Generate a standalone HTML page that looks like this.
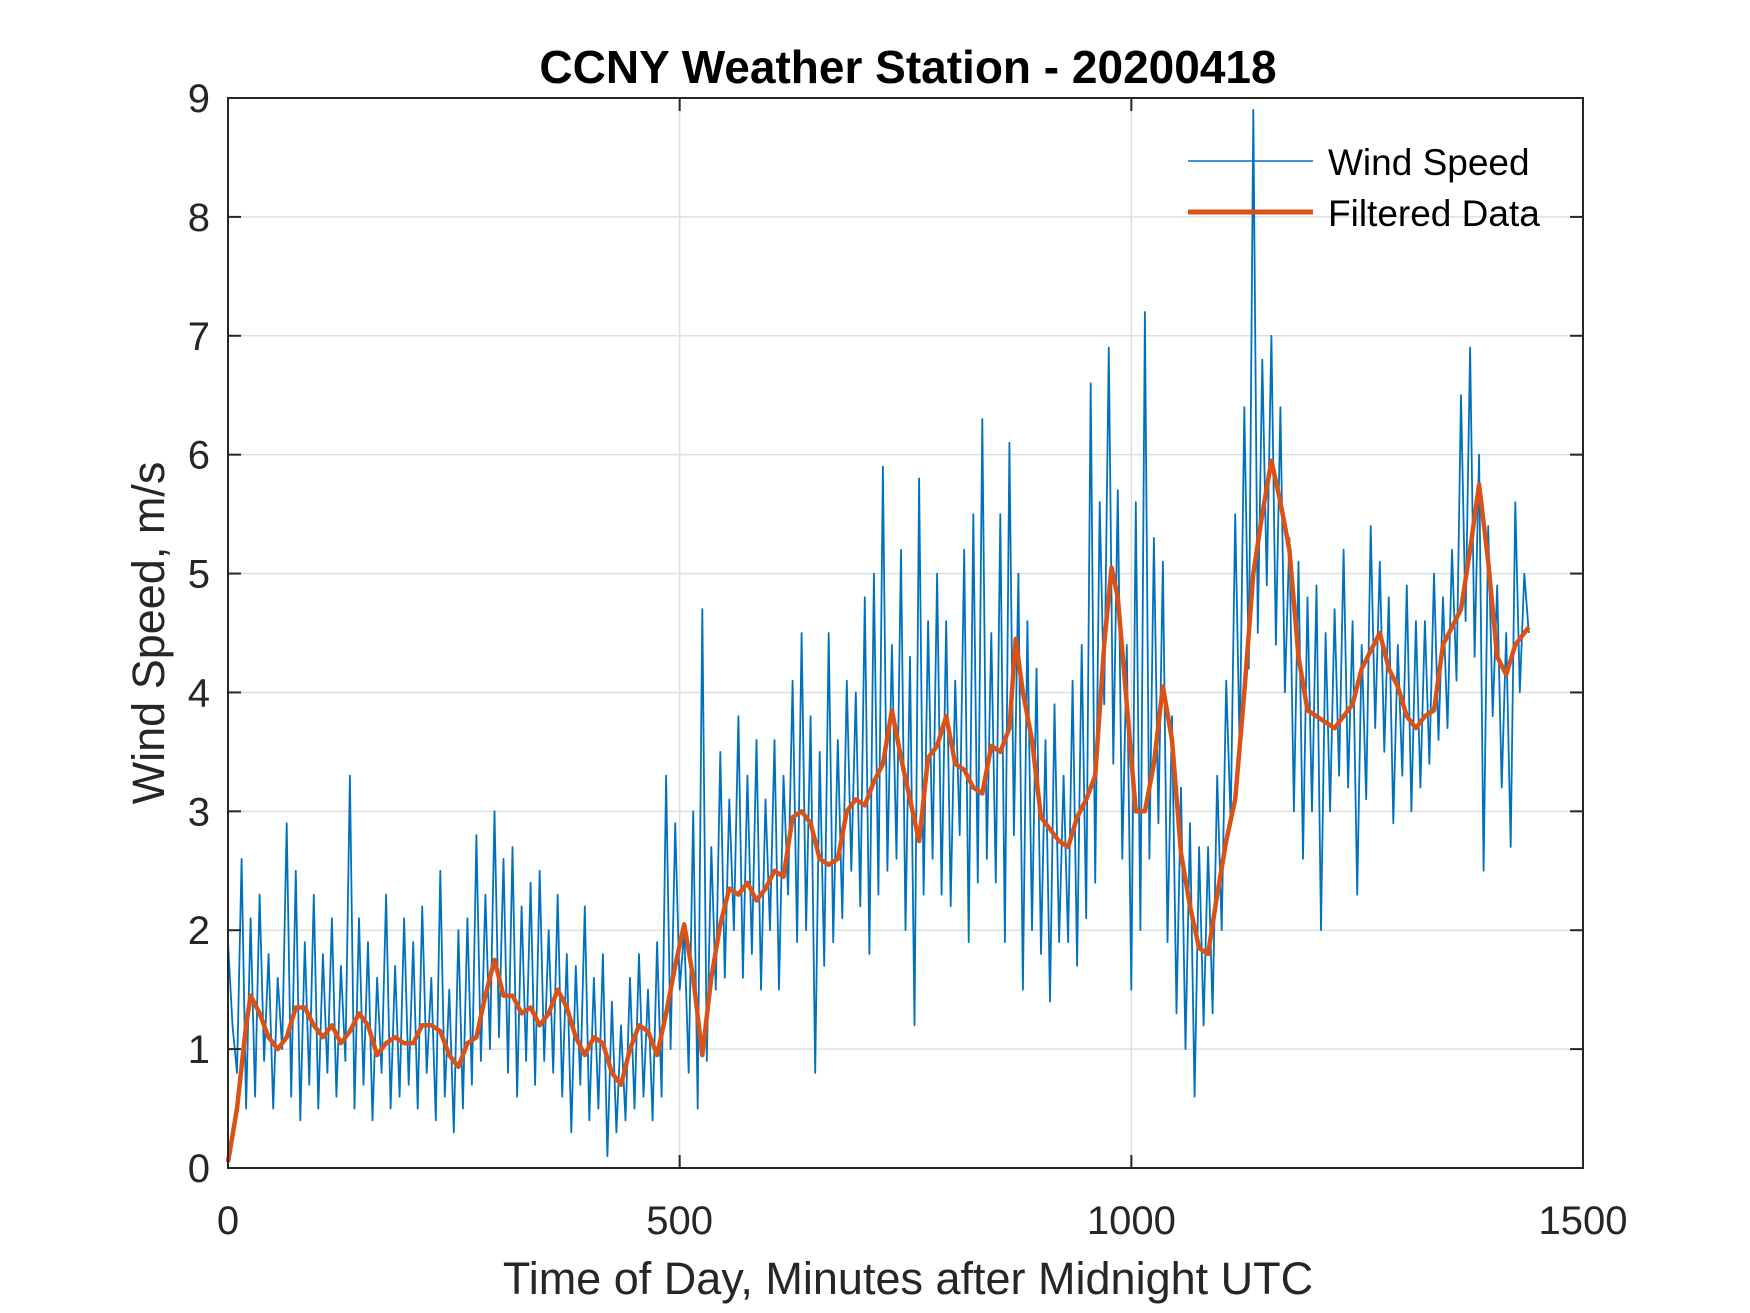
<!DOCTYPE html>
<html><head><meta charset="utf-8"><style>
body{margin:0;background:#fff}
svg{display:block;font-family:"Liberation Sans",Arial,sans-serif}
</style></head><body>
<svg id="chart" width="1750" height="1313" viewBox="0 0 1750 1313">
<rect width="1750" height="1313" fill="#fff"/>
<g id="grid"></g>
<g id="series"></g>
<rect x="228" y="98" width="1355" height="1070" fill="none" stroke="#262626" stroke-width="2"/>
<g id="ticks"></g>
<text x="908" y="83" text-anchor="middle" font-size="46" font-weight="bold" fill="#000">CCNY Weather Station - 20200418</text>
<text x="908" y="1294" text-anchor="middle" font-size="45" fill="#262626">Time of Day, Minutes after Midnight UTC</text>
<text transform="translate(164,633) rotate(-90)" text-anchor="middle" font-size="45" fill="#262626">Wind Speed, m/s</text>
<g>
<line x1="1188" y1="161" x2="1313" y2="161" stroke="#0072BD" stroke-width="1.5"/>
<text x="1328" y="175" font-size="37" fill="#000">Wind Speed</text>
<line x1="1188" y1="212" x2="1313" y2="212" stroke="#D95319" stroke-width="5"/>
<text x="1328" y="226" font-size="37" fill="#000">Filtered Data</text>
</g>
</svg>
<script>
const xTicks=[0,500,1000,1500];
const yTicks=[0,1,2,3,4,5,6,7,8,9];
const rawStep=5;
const rawValues=[
1.9,1.2,0.8,2.6,0.5,2.1,0.6,2.3,0.9,1.8,0.5,1.6,
1.0,2.9,0.6,2.5,0.4,1.9,0.7,2.3,0.5,1.8,0.8,2.1,
0.6,1.7,0.9,3.3,0.5,2.1,0.7,1.9,0.4,1.6,0.8,2.3,
0.5,1.7,0.6,2.1,0.7,1.9,0.5,2.2,0.8,1.6,0.4,2.5,
0.6,1.5,0.3,2.0,0.5,2.1,0.7,2.8,0.9,2.3,1.0,3.0,
1.1,2.6,0.8,2.7,0.6,2.2,0.9,2.4,0.7,2.5,0.9,2.0,
0.8,2.3,0.6,1.8,0.3,1.7,0.7,2.2,0.4,1.6,0.5,1.8,
0.1,1.4,0.3,1.2,0.4,1.6,0.5,1.8,0.6,1.5,0.4,1.9,
0.6,3.3,1.0,2.9,1.5,2.0,0.8,3.0,0.5,4.7,0.9,2.7,
1.5,3.5,1.6,3.1,2.0,3.8,1.6,3.3,1.8,3.6,1.5,3.1,
2.0,3.6,1.5,3.3,2.3,4.1,1.9,4.5,2.0,3.8,0.8,3.5,
1.7,4.5,1.9,3.6,2.1,4.1,2.5,4.0,2.2,4.8,1.8,5.0,
2.3,5.9,2.5,4.4,2.6,5.2,2.0,4.3,1.2,5.8,2.3,4.6,
2.6,5.0,2.3,4.6,2.2,4.1,2.8,5.2,1.9,5.5,2.4,6.3,
2.6,4.5,2.4,5.5,1.9,6.1,2.8,5.0,1.5,4.6,2.0,4.2,
1.8,3.6,1.4,3.9,1.9,3.3,1.9,4.1,1.7,4.4,2.1,6.6,
2.4,5.6,3.9,6.9,3.4,5.7,2.6,4.4,1.5,5.6,2.0,7.2,
2.6,5.3,2.9,5.1,1.9,3.8,1.3,3.2,1.0,2.9,0.6,2.7,
1.2,2.7,1.3,3.3,2.0,4.1,2.9,5.5,3.5,6.4,4.2,8.9,
4.5,6.8,4.9,7.0,4.4,6.4,4.0,5.3,3.0,5.1,2.6,4.8,
3.0,4.9,2.0,4.5,3.0,4.7,3.3,5.2,3.2,4.6,2.3,4.4,
3.1,5.4,3.7,5.1,3.5,4.8,2.9,4.4,3.3,4.9,3.0,4.6,
3.2,4.6,3.4,5.0,3.6,4.8,3.7,5.2,4.1,6.5,4.6,6.9,
4.3,6.0,2.5,5.4,3.8,4.9,3.2,4.5,2.7,5.6,4.0,5.0,
4.5];
const filtTimes=[0,10,20,25,35,45,55,65,75,85,95,105,115,125,135,145,155,165,175,185,195,205,215,225,235,245,255,265,275,285,295,305,315,325,335,345,355,365,375,385,395,405,415,425,435,445,455,465,475,485,495,505,515,525,535,545,555,565,575,585,595,605,615,625,635,645,655,665,675,685,695,705,715,725,735,745,755,765,775,785,795,805,815,825,835,845,855,865,872,880,890,900,910,920,930,940,950,960,970,978,985,995,1005,1015,1025,1035,1045,1055,1065,1075,1085,1095,1105,1115,1125,1135,1145,1155,1165,1175,1185,1195,1205,1215,1225,1235,1245,1255,1265,1275,1285,1295,1305,1315,1325,1335,1345,1355,1365,1375,1385,1395,1405,1415,1425,1435,1440];
const filtValues=[0.05,0.5,1.2,1.45,1.3,1.1,1.0,1.1,1.35,1.35,1.2,1.1,1.2,1.05,1.15,1.3,1.2,0.95,1.05,1.1,1.05,1.05,1.2,1.2,1.15,0.95,0.85,1.05,1.1,1.45,1.75,1.45,1.45,1.3,1.35,1.2,1.3,1.5,1.35,1.1,0.95,1.1,1.05,0.8,0.7,1.0,1.2,1.15,0.95,1.3,1.7,2.05,1.6,0.95,1.6,2.05,2.35,2.3,2.4,2.25,2.35,2.5,2.45,2.95,3.0,2.9,2.6,2.55,2.6,3.0,3.1,3.05,3.25,3.4,3.85,3.45,3.1,2.75,3.45,3.55,3.8,3.4,3.35,3.2,3.15,3.55,3.5,3.7,4.45,4.0,3.6,2.95,2.85,2.75,2.7,2.95,3.1,3.3,4.4,5.05,4.8,3.9,3.0,3.0,3.4,4.05,3.6,2.65,2.2,1.85,1.8,2.3,2.75,3.1,4.0,5.0,5.5,5.95,5.6,5.2,4.3,3.85,3.8,3.75,3.7,3.8,3.9,4.2,4.35,4.5,4.2,4.05,3.8,3.7,3.8,3.85,4.4,4.55,4.7,5.2,5.75,5.1,4.3,4.15,4.4,4.5,4.55];
const X0=228,X1=1583,Y0=1168,Y1=98;
function sx(v){return X0+(v-0)/(1500-0)*(X1-X0);}
function sy(v){return Y0-(v-0)/(9-0)*(Y0-Y1);}
const NS="http://www.w3.org/2000/svg";
const grid=document.getElementById('grid'),ticks=document.getElementById('ticks'),series=document.getElementById('series');
function mk(tag,attrs,parent){const e=document.createElementNS(NS,tag);for(const k in attrs)e.setAttribute(k,attrs[k]);parent.appendChild(e);return e;}
xTicks.forEach(t=>{const x=sx(t);
 if(t>0&&t<1500){const g=mk('line',{x1:x,y1:Y1,x2:x,y2:Y0,stroke:'#dfdfdf','stroke-width':1.5},grid);
 
 }
 [[Y0,Y0-13],[Y1,Y1+13]].forEach(p=>{const l=mk('line',{x1:x,y1:p[0],x2:x,y2:p[1],stroke:'#262626','stroke-width':2},ticks);
 
 });
 const tx=mk('text',{x:x,y:1234,'text-anchor':'middle','font-size':40,fill:'#262626'},ticks);tx.textContent=t;
 
 
});
yTicks.forEach(t=>{const y=sy(t);
 if(t>0&&t<9){const g=mk('line',{x1:X0,y1:y,x2:X1,y2:y,stroke:'#dfdfdf','stroke-width':1.5},grid);
 
 }
 [[X0,X0+13],[X1,X1-13]].forEach(p=>{const l=mk('line',{x1:p[0],y1:y,x2:p[1],y2:y,stroke:'#262626','stroke-width':2},ticks);
 
 });
 const tx=mk('text',{x:210,y:y+14,'text-anchor':'end','font-size':40,fill:'#262626'},ticks);tx.textContent=t;
 
 
});
const rawPts=rawValues.map((v,i)=>sx(i*rawStep).toFixed(1)+','+sy(v).toFixed(1)).join(' ');
const raw=mk('polyline',{points:rawPts,fill:'none',stroke:'#0072BD','stroke-width':1.8,'stroke-linejoin':'round'},series);


const fPts=filtValues.map((v,i)=>sx(filtTimes[i]).toFixed(1)+','+sy(v).toFixed(1)).join(' ');
const filt=mk('polyline',{points:fPts,fill:'none',stroke:'#D95319','stroke-width':4.5,'stroke-linejoin':'round'},series);


</script>
</body></html>
